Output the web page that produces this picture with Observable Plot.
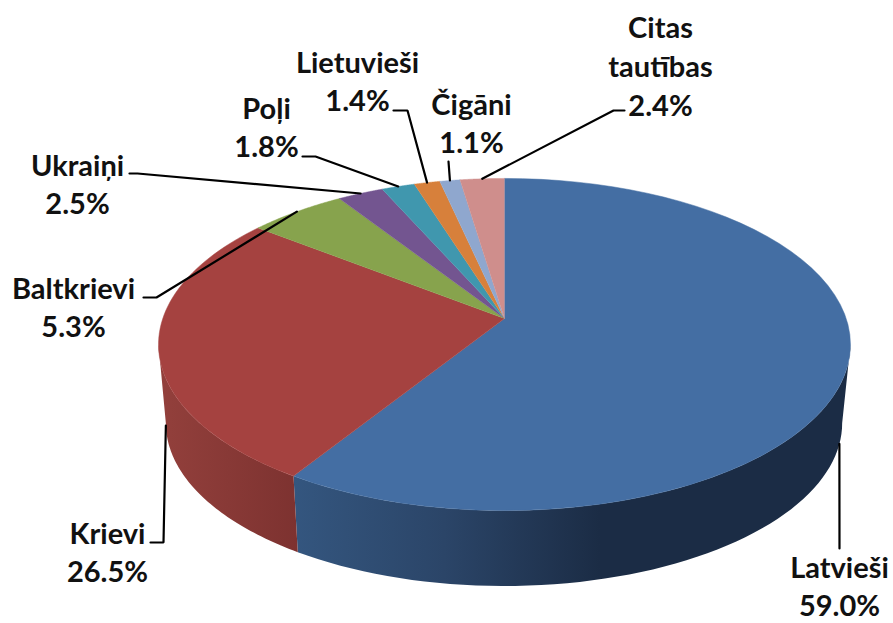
<!DOCTYPE html>
<html><head><meta charset="utf-8">
<style>html,body{margin:0;padding:0;background:#fff}svg{display:block}</style>
<script src="https://cdn.jsdelivr.net/npm/d3@7"></script>
<script src="https://cdn.jsdelivr.net/npm/@observablehq/plot@0.6"></script>
</head><body><script>
const categories = ["Latvieši","Krievi","Baltkrievi","Ukraiņi","Poļi","Lietuvieši","Čigāni","Citas tautības"];
const shares = [59.0,26.5,5.3,2.5,1.8,1.4,1.1,2.4];
const colors = ["#446ea3","#a54240","#87a34d","#735590","#4097ae","#d7803b","#8fa7ce","#cf8e8c"];
const labelLines = ["Latvieši\n59.0%","Krievi\n26.5%","Baltkrievi\n5.3%","Ukraiņi\n2.5%","Poļi\n1.8%","Lietuvieši\n1.4%","Čigāni\n1.1%","Citas\ntautības\n2.4%"];
// Manual label placement (as in the original): label centre and leader-line elbows
const labelX = [839,107,73,77,266,357,471,660];
const labelY = [584,550,305,182,125,79,121,64];
const elbows = [[[839,548]],[[163,542],[150,542]],[[156,297],[143,297]],[[137,173],[129,173]],[[315,156],[302,156]],[[407,110],[393,110]],[[448,161]],[[613,110],[624,110]]];
const anchorOnBase = [true,true,false,false,false,false,false,false];

// Perspective disc
const top_ = {cx:504, cy:318, R:341.7, H:162};
const base = {cx:503.5, cy:397, R:334, H:159};
const k = 0.1566;
const project = (d, a) => { // a: clockwise angle from 12 o'clock
  const u = Math.sin(a), v = -Math.cos(a), w = 1 - k*v;
  return [d.cx + d.R*u/w, d.cy + d.H*v/w];
};
const total = d3.sum(shares);
const cum = d3.cumsum(shares);
const angle = f => f/total*2*Math.PI;
const slices = categories.map((name,i)=>({name,i,a0:angle(i?cum[i-1]:0),a1:angle(cum[i])}));
const arc = (d,a0,a1) => d3.range(0,61).map(t=>project(d,a0+(a1-a0)*t/60));

const topPts = slices.flatMap(s=>[[top_.cx,top_.cy],...arc(top_,s.a0,s.a1)].map(p=>({x:p[0],y:p[1],name:s.name,fill:colors[s.i]})));
const wallFrom = [99*Math.PI/180, slices[1].a0];
const wallTo = [slices[0].a1, 261*Math.PI/180];
const wall = (i) => [...arc(top_,wallFrom[i],wallTo[i]),...arc(base,wallFrom[i],wallTo[i]).reverse()].map(p=>({x:p[0],y:p[1]}));

const leaders = slices.flatMap(s=>{
  const mid=(s.a0+s.a1)/2, p=project(anchorOnBase[s.i]?base:top_,mid);
  return [p,...elbows[s.i]].map(q=>({x:q[0],y:q[1],name:s.name}));
});
const labels = slices.map(s=>({x:labelX[s.i],y:labelY[s.i],t:labelLines[s.i]}));

const defs = () => {
  const s = d3.create("svg:defs");
  const g = (id,stops)=>{const l=s.append("linearGradient").attr("id",id);stops.forEach(([o,c])=>l.append("stop").attr("offset",o).attr("stop-color",c));};
  g("wallBlue",[[0,"#34567f"],[0.27,"#2b4568"],[0.55,"#1b2c45"],[1,"#1b2c45"]]);
  g("wallRed",[[0,"#93403c"],[1,"#7d3230"]]);
  return s.node();
};

const plot = Plot.plot({
  width:893,height:623,margin:0,
  x:{domain:[0,893],axis:null},
  y:{domain:[623,0],axis:null},
  style:{background:"#fff"},
  marks:[
    defs,
    Plot.line(wall(0),{x:"x",y:"y",fill:"url(#wallBlue)",stroke:"none"}),
    Plot.line(wall(1),{x:"x",y:"y",fill:"url(#wallRed)",stroke:"none"}),
    Plot.line(topPts,{x:"x",y:"y",z:"name",fill:"fill",stroke:"fill",strokeWidth:0.5}),
    Plot.line(leaders,{x:"x",y:"y",z:"name",stroke:"#000",strokeWidth:2.2,strokeLinejoin:"miter"}),
    Plot.text(labels,{x:"x",y:"y",text:"t",fontFamily:"Lato",fontWeight:700,fontSize:29,lineHeight:1.34,fill:"#111"})
  ]
});
document.body.append(plot);
</script></body></html>
